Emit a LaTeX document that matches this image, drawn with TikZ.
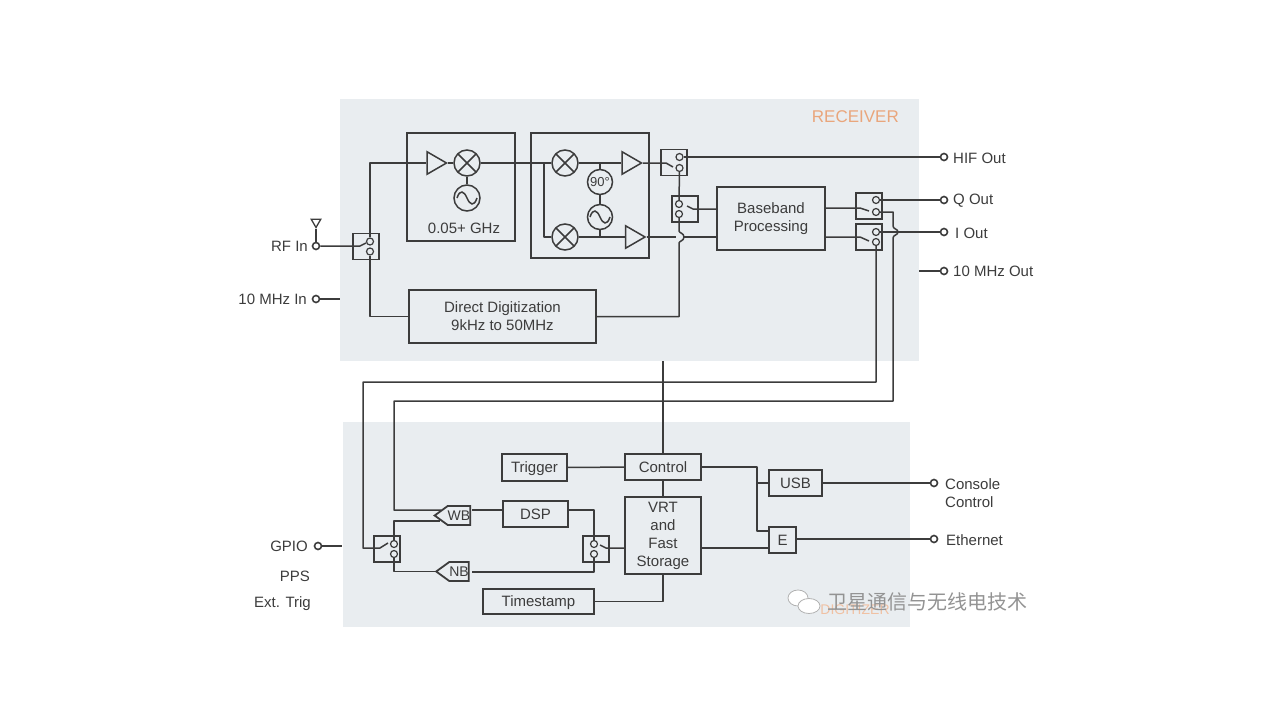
\documentclass[tikz,border=0pt]{standalone}
\usepackage{fontspec}
\setmainfont{Liberation Sans}
\newfontfamily\cjk{Noto Sans CJK SC}
\usetikzlibrary{shapes.geometric,shapes.symbols,positioning}
\definecolor{panelgray}{HTML}{E9EDF0}
\definecolor{inkgray}{HTML}{3C3C3C}
\definecolor{tagorange}{HTML}{E9A67C}

\begin{document}
\begin{tikzpicture}[
  x=1pt,y=-1pt,
  every node/.style={text=inkgray,font=\fontsize{15}{18}\selectfont},
  line/.style={draw=inkgray,line width=1.5pt,line join=round},
  blockbox/.style={draw=inkgray,line width=1.8pt,inner sep=0pt,align=center},
  groupbox/.style={draw=inkgray,line width=1.8pt,inner sep=0pt},
  swbox/.style={draw=inkgray,line width=1.8pt,inner sep=0pt,minimum size=26pt},
  contact/.style={circle,draw=inkgray,line width=1.2pt,inner sep=0pt,minimum size=7pt,fill=panelgray},
  terminal/.style={circle,draw=inkgray,line width=1.6pt,inner sep=0pt,minimum size=7pt,fill=white},
  ampl/.style={regular polygon,regular polygon sides=3,shape border rotate=-90,draw=inkgray,line width=1.5pt,minimum size=26pt,inner sep=0pt},
  mixer/.style={circle,draw=inkgray,line width=1.5pt,minimum size=26pt,inner sep=0pt,
    path picture={\draw[inkgray,line width=1.5pt]
      (path picture bounding box.south west) -- (path picture bounding box.north east)
      (path picture bounding box.north west) -- (path picture bounding box.south east);}},
  osc/.style={circle,draw=inkgray,line width=1.5pt,minimum size=#1,inner sep=0pt,
    path picture={\draw[inkgray,line width=1.5pt,shift={(path picture bounding box.center)}]
      (-10,0) .. controls (-7,-9) and (-3,-7) .. (0,0) .. controls (3,7) and (7,9) .. (10,0);}},
  filterbox/.style={signal,signal to=west,signal pointer angle=72,draw=inkgray,line width=1.8pt,minimum height=19pt,minimum width=26pt,inner sep=0pt,font=\fontsize{14}{16}\selectfont},
  lefttag/.style={anchor=east,inner sep=0pt},
  righttag/.style={anchor=west,inner sep=0pt},
  bubble/.style={ellipse,draw=gray!60,line width=0.8pt,fill=white,inner sep=0pt},
]
\useasboundingbox (0,0) rectangle (1280,720);

% Panels
\fill[panelgray] (340,99) rectangle (919,361);
\fill[panelgray] (343,422) rectangle (910,627);
\node[text=tagorange,font=\fontsize{17}{18}\selectfont,anchor=east,inner sep=0pt] (rxtag) at (899,117) {RECEIVER};
\node[text=tagorange!70,font=\fontsize{14}{16}\selectfont,inner sep=0pt] (dgtag) at (855,610) {DIGITIZER};

% Receiver blocks
\node[groupbox,minimum width=108pt,minimum height=108pt] (lowband) at (461,187) {};
\node[groupbox,minimum width=118pt,minimum height=125pt] (highband) at (590,195.5) {};
\node[ampl] (amplow) at (433.5,163) {};
\node[mixer] (mixlow) at (467,163) {};
\node[osc=26pt] (osclow) at (467,198) {};
\node (lowtag) at (464,228) {0.05+ GHz};
\node[mixer] (mixi) at (565,163) {};
\node[mixer] (mixq) at (565,237) {};
\node[ampl] (ampi) at (628.5,163) {};
\node[ampl] (ampq) at (632,237) {};
\node[circle,draw=inkgray,line width=1.5pt,minimum size=25pt,inner sep=0pt,font=\fontsize{13}{15}\selectfont] (shift) at (600,182) {90°};
\node[osc=25pt] (oschigh) at (600,217) {};
\node[blockbox,minimum width=187pt,minimum height=53pt] (direct) at (502.5,316.5) {Direct Digitization\\9kHz to 50MHz};
\node[blockbox,minimum width=108pt,minimum height=63pt] (baseband) at (771,218.5) {Baseband\\Processing};

% Switches with their two contacts
\foreach \nm/\x/\y/\cx/\cy in {swrf/366/246.5/4/5, swhif/674/162.5/5.5/5.5, swbb/685/209/-6/5, swq/869/206/7/6, swi/869/237/7/5,
    swleft/387/549/7/5, swright/596/549/-2/5}{
  \node[swbox] (\nm) at (\x,\y) {};
  \node[contact] (\nm-t) at (\x+\cx,\y-\cy) {};
  \node[contact] (\nm-b) at (\x+\cx,\y+\cy) {};
}

% Outer terminals
\node[terminal] (rfin) at (316,246) {};
\node[terminal] (refin) at (316,299) {};
\node[terminal] (gpio) at (318,546) {};
\node[terminal] (hifout) at (944,157) {};
\node[terminal] (qout) at (944,200) {};
\node[terminal] (iout) at (944,232) {};
\node[terminal] (refout) at (944,271) {};
\node[terminal] (console) at (934,483) {};
\node[terminal] (ether) at (934,539) {};
\node[lefttag] (rflabel) at (308,246) {RF In};
\node[lefttag] (reflabel) at (307,299) {10 MHz In};
\node[lefttag] (gpiolabel) at (308,546) {GPIO};
\node[lefttag] (ppslabel) at (310,576) {PPS};
\node[lefttag] (triglabel) at (311,604) {Ext. Trig};
\node[righttag] (hiflabel) at (953,158) {HIF Out};
\node[righttag] (qlabel) at (953,201) {Q Out};
\node[righttag] (ilabel) at (955,233) {I Out};
\node[righttag] (reflabelb) at (953,271) {10 MHz Out};
\node[righttag,align=left] (conlabel) at (945,493) {Console\\Control};
\node[righttag] (ethlabel) at (946,540) {Ethernet};

% Antenna
\node[regular polygon,regular polygon sides=3,shape border rotate=180,draw=inkgray,line width=1.3pt,minimum size=11pt,inner sep=0pt] (ant) at (316,222) {};
\draw[line] (ant.south) -- (rfin);

% Digitizer blocks
\node[blockbox,text depth=0pt,minimum width=65pt,minimum height=27pt] (trigger) at (534.5,467.5) {Trigger};
\node[blockbox,text depth=0pt,minimum width=76pt,minimum height=26pt] (control) at (663,467) {Control};
\node[blockbox,minimum width=76pt,minimum height=77pt] (vrt) at (663,535.5) {VRT\\and\\Fast\\Storage};
\node[blockbox,minimum width=65pt,minimum height=26pt] (dsp) at (535.5,514) {DSP};
\node[blockbox,text depth=0pt,minimum width=111pt,minimum height=25pt] (stamp) at (538.5,601.5) {Timestamp};
\node[blockbox,minimum width=53pt,minimum height=26pt] (usb) at (795.5,483) {USB};
\node[blockbox,minimum width=27pt,minimum height=26pt] (eth) at (782.5,540) {E};
\node[filterbox] (wb) at (459,515.5) {WB};
\node[filterbox] (nb) at (459,571.5) {NB};

% Receiver connections
\draw[line] (rfin) -- (360,246) -- (366,243);
\draw[line] (refin) -- (340,299);
\draw[line] (swrf-t) |- (amplow.west);
\draw[line] (swrf-b) |- (direct.west);
\draw[line] (amplow.east) -- (mixlow);
\draw[line] (mixlow) -- (osclow);
\draw[line] (mixlow) -- (mixi);
\draw[line] (544,163) |- (mixq);
\draw[line] (mixi) -- (ampi.west);
\draw[line] (mixq) -- (ampq.west);
\draw[line] (600,163) -- (shift);
\draw[line] (shift) -- (oschigh);
\draw[line] (oschigh) -- (600,237);
\draw[line] (ampi.east) -- (666,163) -- (673,167);
\draw[line] (swhif-t) -- (hifout);
\draw[line] (swhif-b) -- (swbb-t);
\draw[line] (direct.east) -| (679,243)
  .. controls (679,241) and (684,241) .. (684,237) .. controls (684,233) and (679,233) .. (679,231)
  -- (swbb-b);
\draw[line] (ampq.east) -- (676,237) (684,237) -- (baseband.west |- 0,237);
\draw[line] (baseband.west |- 0,209) -- (693,209) -- (687,206);
\draw[line] (baseband.east |- 0,208) -- (860,208) -- (869,211);
\draw[line] (baseband.east |- 0,237) -- (860,237) -- (869,241);
\draw[line] (swq-t) -- (qout);
\draw[line] (swi-t) -- (iout);
\draw[line] (refout) -- (919,271);

% Long runs between the two panels
\draw[line] (swq-b) -| (893,226)
  .. controls (893,229) and (898,229) .. (898,232) .. controls (898,235) and (893,235) .. (893,238)
  -- (893,401) -| (394,510) -- (441,510);
\draw[line] (swi-b) |- (363,382) |- (374,548) -- (380,548) -- (388,543);
\draw[line] (663,361) -- (control);

% Digitizer connections
\draw[line] (trigger) -- (control);
\draw[line] (control) -- (vrt);
\draw[line] (vrt.south) |- (stamp.east);
\draw[line] (dsp.west |- 0,510) -- (472,510);
\draw[line] (dsp.east |- 0,510) -| (swright-t);
\draw[line] (swleft-t) |- (440,521);
\draw[line] (swleft-b) |- (nb.west);
\draw[line] (472,572) -| (swright-b);
\draw[line] (vrt.west |- 0,548) -- (606,548) -- (600,545);
\draw[line] (control.east) -| (757,531) -- (eth.west |- 0,531);
\draw[line] (757,483) -- (usb.west);
\draw[line] (usb.east) -- (console);
\draw[line] (vrt.east |- 0,548) -- (eth.west |- 0,548);
\draw[line] (eth.east |- 0,539) -- (ether);
\draw[line] (gpio) -- (342,546);

% Watermark
\node[bubble,minimum width=20pt,minimum height=16pt] (bubblea) at (798,598) {};
\node[bubble,minimum width=22pt,minimum height=15pt] (bubbleb) at (809,606) {};
\node[text=gray!85,font=\cjk\fontsize{20}{22}\selectfont,anchor=west,inner sep=0pt] (wmark) at (827,602) {卫星通信与无线电技术};
\end{tikzpicture}
\end{document}
